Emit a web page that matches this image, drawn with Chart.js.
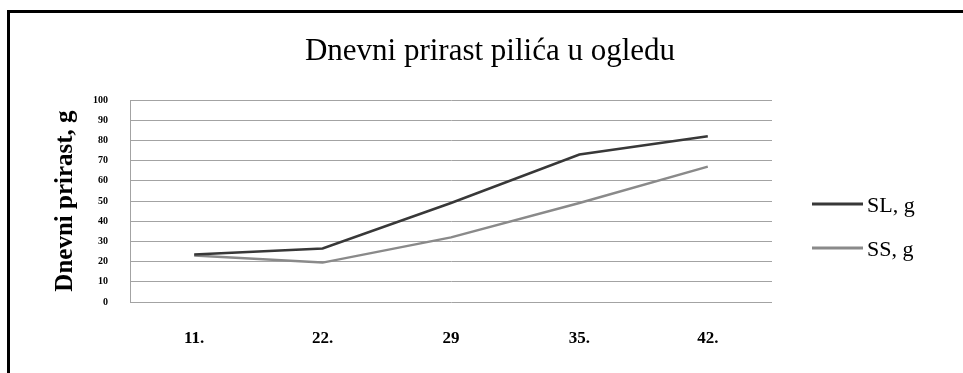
<!DOCTYPE html>
<html>
<head>
<meta charset="utf-8">
<script src="https://cdn.jsdelivr.net/npm/chart.js@4/dist/chart.umd.min.js"></script>
<style>
  html, body { margin: 0; padding: 0; background: #fff; }
  #wrap { position: relative; width: 963px; height: 373px; overflow: hidden; background: #fff; }
  #wrap canvas { position: absolute; left: 0; top: 0; }
  #frame {
    position: absolute; left: 7px; top: 10px; width: 1000px; height: 400px;
    border-left: 3px solid #000; border-top: 3px solid #000; pointer-events: none;
  }
</style>
</head>
<body>
<div id="wrap">
  <canvas id="chart" width="963" height="373"></canvas>
  <div id="frame"></div>
</div>
<script>
// Days of the trial
const days = ['11.', '22.', '29', '35.', '42.'];
// Daily weight gain, g
const slValues = [23.5, 26.5, 49, 73, 82];
const ssValues = [23, 19.5, 32, 49, 67];
const seriesNames = ['SL, g', 'SS, g'];
const yTicks = [0, 10, 20, 30, 40, 50, 60, 70, 80, 90, 100];

const SERIF = '"Liberation Serif", "Times New Roman", serif';

// Legend drawn to the right of the plot: a short line and the series name
const sideLegend = {
  id: 'sideLegend',
  afterDraw(chart) {
    const ctx = chart.ctx;
    const x0 = chart.chartArea.right + 40;
    const rows = [204, 248];
    ctx.save();
    chart.data.datasets.forEach((ds, i) => {
      const y = rows[i];
      ctx.strokeStyle = ds.borderColor;
      ctx.lineWidth = 3;
      ctx.beginPath();
      ctx.moveTo(x0, y);
      ctx.lineTo(x0 + 51, y);
      ctx.stroke();
      ctx.fillStyle = '#000';
      ctx.font = '22px ' + SERIF;
      ctx.textBaseline = 'middle';
      ctx.textAlign = 'left';
      ctx.fillText(ds.label, x0 + 55, y + 2);
    });
    ctx.restore();
  }
};

new Chart(document.getElementById('chart'), {
  type: 'line',
  data: {
    labels: days,
    datasets: [
      { label: seriesNames[0], data: slValues, borderColor: '#383838', borderWidth: 2.5,
        pointRadius: 0, tension: 0, fill: false },
      { label: seriesNames[1], data: ssValues, borderColor: '#8a8a8a', borderWidth: 2.5,
        pointRadius: 0, tension: 0, fill: false }
    ]
  },
  options: {
    responsive: false,
    animation: false,
    layout: { padding: { left: 17, right: 0, top: 10, bottom: 0 } },
    plugins: {
      legend: { display: false },
      tooltip: { enabled: false },
      title: {
        display: true,
        text: 'Dnevni prirast pilića u ogledu',
        color: '#000',
        font: { family: SERIF, size: 31, weight: 'normal' },
        padding: { top: 23, bottom: 29.8 }
      }
    },
    scales: {
      x: {
        type: 'category',
        offset: true,
        grid: { display: false, drawTicks: false },
        border: { display: false },
        ticks: {
          color: '#000',
          padding: 26,
          font: { family: SERIF, size: 17, weight: 'bold' }
        },
        afterFit(s) { s.height = 71; }
      },
      y: {
        min: 0, max: 100,
        afterBuildTicks(s) { s.ticks = yTicks.map(v => ({ value: v })); },
        grid: { color: '#a3a3a3', lineWidth: 1, drawTicks: false },
        border: { display: true, color: '#a3a3a3', width: 1 },
        ticks: {
          color: '#000',
          padding: 22,
          font: { family: SERIF, size: 10, weight: 'bold' }
        },
        title: {
          display: true,
          text: 'Dnevni prirast, g',
          color: '#000',
          font: { family: SERIF, size: 25, weight: 'bold' },
          padding: { top: 34, bottom: 0 }
        },
        afterFit(s) { s.width = 113; }
      },
      side: {
        type: 'linear',
        position: 'right',
        grid: { display: false, drawTicks: false },
        border: { display: false },
        ticks: { display: false },
        afterFit(s) { s.width = 191; }
      }
    }
  },
  plugins: [sideLegend]
});
</script>
</body>
</html>
